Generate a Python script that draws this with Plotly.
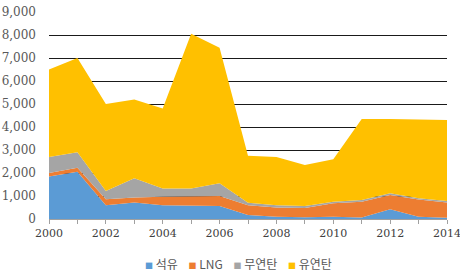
import plotly.graph_objects as go

years = list(range(2000, 2015))
oil = [1850, 2050, 600, 720, 600, 600, 570, 170, 100, 80, 100, 70, 420, 100, 50]
lng = [150, 180, 260, 220, 370, 380, 430, 430, 400, 400, 580, 680, 620, 750, 670]
anthracite = [700, 670, 360, 830, 360, 350, 550, 110, 100, 90, 70, 80, 80, 50, 60]
bituminous = [3800, 4100, 3780, 3430, 3470, 6720, 5900, 2040, 2100, 1780, 1850, 3520, 3230, 3420, 3520]

names = ["석유", "LNG", "무연탄", "유연탄"]
colors = ["#5B9BD5", "#ED7D31", "#A5A5A5", "#FFC000"]
series = [oil, lng, anthracite, bituminous]

fig = go.Figure()
for name, col, vals in zip(names, colors, series):
    fig.add_trace(go.Scatter(
        x=years, y=vals, name=name, mode="lines",
        line=dict(width=0, color=col), fillcolor=col,
        stackgroup="one", showlegend=False,
    ))

yticks = list(range(0, 10000, 1000))
xticks = years
xlabels = [str(y) if y % 2 == 0 else "" for y in years]

serif = "DejaVu Serif"

legend_text = "&nbsp;&nbsp;&nbsp;&nbsp;".join(
    f'<span style="color:{c};font-size:8px">■</span> {n}' for n, c in zip(names, colors)
)

fig.update_layout(
    width=460, height=272,
    margin=dict(l=49, r=13, t=12, b=53, autoexpand=False),
    paper_bgcolor="white", plot_bgcolor="white",
    font=dict(family=serif, size=12, color="#595959"),
    showlegend=False,
    annotations=[dict(text=legend_text, xref="paper", yref="paper",
                      x=(238 - 49) / 398, y=-(263 - 219) / 207,
                      xanchor="center", yanchor="middle", showarrow=False,
                      font=dict(family="Noto Sans CJK KR", size=12, color="#595959"))],
    xaxis=dict(range=[2000, 2014], tickvals=xticks, ticktext=xlabels,
               tickfont=dict(family=serif, size=11, color="#404040"),
               showgrid=False, showline=True, linecolor="#A0A0A0", linewidth=1,
               ticks="outside", ticklen=4, tickcolor="#A0A0A0", zeroline=False,
               automargin=False, ticklabeloverflow="allow"),
    yaxis=dict(range=[0, 9000], tickvals=yticks,
               ticktext=[f"{v:,}" for v in yticks],
               tickfont=dict(family=serif, size=12, color="#595959"),
               showgrid=True, gridcolor="#1a1a1a", gridwidth=1,
               zeroline=False, showline=False, ticks="", ticklabelstandoff=12,
               automargin=False),
)

fig.write_html("out.html")
